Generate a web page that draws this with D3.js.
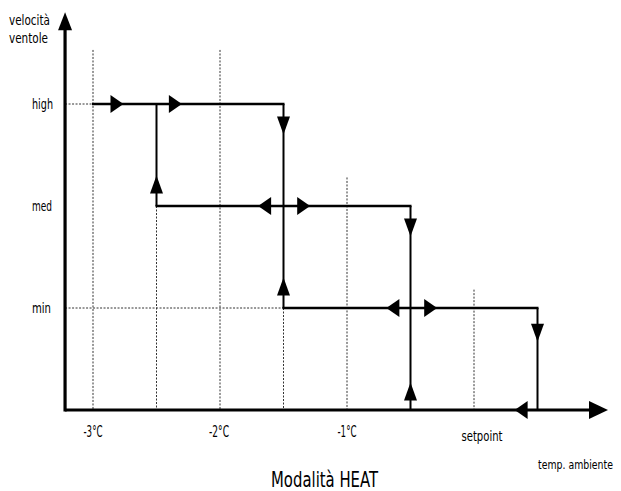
<!DOCTYPE html>
<html><head><meta charset="utf-8">
<script src="https://cdn.jsdelivr.net/npm/d3@7/dist/d3.min.js"></script>
<style>
html,body{margin:0;padding:0;background:#fff;}
text{font-family:"Liberation Sans Narrow","DejaVu Sans Condensed","Liberation Sans",sans-serif;fill:#000;}
</style></head>
<body>
<svg id="chart" width="621" height="491"></svg>
<script>
// ---- data ----
const levels = [1, 2, 3];
const levelLabels = ["min", "med", "high"];
const xTicks = [-3, -2, -1, 0];
const xTickLabels = ["-3°C", "-2°C", "-1°C", "setpoint"];
// dotted grid columns: temperature and top level (in fan-speed units)
const gridX   = [-3, -2.5, -2, -1.5, -1, 0];
const gridTop = [3.53, 2, 3.53, 1, 2.28, 1.18];
// dotted guide from y axis to the start of a level
const guideLevel = [3, 1];
const guideEnd   = [-3, -1.5];
// hysteresis step lines: horizontal (level, from, to)
const hLevel = [3, 2, 1];
const hFrom  = [-3, -2.5, -1.5];
const hTo    = [-1.5, -0.5, 0.5];
// vertical (temperature, from level, to level)
const vX    = [-2.5, -1.5, -0.5, 0.5];
const vFrom = [2, 1, 0, 0];
const vTo   = [3, 3, 2, 1];
// arrows (tip position, direction)
const arrowX   = [-2.76, -2.30, -1.5, -2.5, -1.70, -1.29, -0.5, -1.5, -0.69, -0.29, 0.5, -0.5, 0.32];
const arrowY   = [3, 3, 2.70, 2.30, 2, 2, 1.70, 1.30, 1, 1, 0.67, 0.27, 0];
const arrowDir = ["right","right","down","up","left","right","down","up","left","right","down","up","left"];
// axis extents
const xAxisMin = -3.22, xAxisMax = 1.055, yAxisMax = 3.9;

// ---- scales ----
const x = d3.scaleLinear().domain([-3, 0]).range([93, 474]);
const y = d3.scaleLinear().domain([0, 3]).range([410, 104]);

const svg = d3.select("#chart");

// dotted grid
svg.append("g").selectAll("line").data(gridX).join("line")
  .attr("x1", d => x(d)).attr("x2", d => x(d))
  .attr("y1", (d, i) => y(gridTop[i])).attr("y2", y(0))
  .attr("stroke", "#333").attr("stroke-width", 1).attr("stroke-dasharray", "2,1.5");
svg.append("g").selectAll("line").data(guideLevel).join("line")
  .attr("x1", x(xAxisMin)).attr("x2", (d, i) => x(guideEnd[i]))
  .attr("y1", d => y(d)).attr("y2", d => y(d))
  .attr("stroke", "#333").attr("stroke-width", 1).attr("stroke-dasharray", "2,1.5");

// step lines
svg.append("g").selectAll("line").data(hLevel).join("line")
  .attr("x1", (d, i) => x(hFrom[i]) - 1).attr("x2", (d, i) => x(hTo[i]) + 1)
  .attr("y1", d => y(d)).attr("y2", d => y(d))
  .attr("stroke", "#000").attr("stroke-width", 2.5);
svg.append("g").selectAll("line").data(vX).join("line")
  .attr("x1", d => x(d)).attr("x2", d => x(d))
  .attr("y1", (d, i) => y(vFrom[i])).attr("y2", (d, i) => y(vTo[i]))
  .attr("stroke", "#000").attr("stroke-width", 2);

// axes
svg.append("line").attr("x1", x(xAxisMin)).attr("x2", x(xAxisMax) - 10)
  .attr("y1", y(0)).attr("y2", y(0)).attr("stroke", "#000").attr("stroke-width", 3.2);
svg.append("line").attr("x1", x(xAxisMin)).attr("x2", x(xAxisMin))
  .attr("y1", y(0) + 1.6).attr("y2", y(yAxisMax) + 10).attr("stroke", "#000").attr("stroke-width", 3.2);

function arrowPath(px, py, dir, L, H) {
  if (dir === "right") return `M${px},${py}L${px - L},${py - H}L${px - L},${py + H}Z`;
  if (dir === "left")  return `M${px},${py}L${px + L},${py - H}L${px + L},${py + H}Z`;
  if (dir === "down")  return `M${px},${py}L${px - H},${py - L}L${px + H},${py - L}Z`;
  return `M${px},${py}L${px - H},${py + L}L${px + H},${py + L}Z`;
}
// axis arrowheads
svg.append("path").attr("d", arrowPath(x(xAxisMax), y(0), "right", 19, 9)).attr("fill", "#000");
svg.append("path").attr("d", arrowPath(x(xAxisMin), y(yAxisMax), "up", 18, 7)).attr("fill", "#000");
// flow arrows
svg.append("g").selectAll("path").data(arrowX).join("path")
  .attr("d", (d, i) => {
    const dir = arrowDir[i];
    const horiz = dir === "left" || dir === "right";
    return arrowPath(x(d), y(arrowY[i]), dir, horiz ? 13 : 18, horiz ? 9 : 6.5);
  })
  .attr("fill", "#000");

// y labels
svg.append("g").selectAll("text").data(levels).join("text")
  .attr("x", 32).attr("y", d => y(d) + 4.5)
  .attr("font-size", 14)
  .attr("textLength", (d, i) => [19, 20, 21][i]).attr("lengthAdjust", "spacingAndGlyphs")
  .text((d, i) => levelLabels[i]);

// x tick labels
const xLabOffset = [0, -1, 0, 8];
const xLabLen = [19, 20, 19, 41];
const xLabBase = [437, 437, 437, 441];
svg.append("g").selectAll("text").data(xTicks).join("text")
  .attr("x", (d, i) => x(d) + xLabOffset[i] - xLabLen[i] / 2)
  .attr("y", (d, i) => xLabBase[i])
  .attr("font-size", (d, i) => i === 3 ? 14 : 16)
  .attr("textLength", (d, i) => xLabLen[i]).attr("lengthAdjust", "spacingAndGlyphs")
  .text((d, i) => xTickLabels[i]);

// axis titles
svg.append("text").attr("x", 9).attr("y", 25).attr("font-size", 14)
  .attr("textLength", 41).attr("lengthAdjust", "spacingAndGlyphs").text("velocità");
svg.append("text").attr("x", 9).attr("y", 43).attr("font-size", 14)
  .attr("textLength", 39).attr("lengthAdjust", "spacingAndGlyphs").text("ventole");
svg.append("g").attr("transform", "translate(538,469) scale(0.8,1)")
  .append("text").attr("x", 0).attr("y", 0).attr("font-size", 13).text("temp. ambiente");
// chart title
svg.append("text").attr("x", 271).attr("y", 487).attr("font-size", 21)
  .attr("textLength", 107).attr("lengthAdjust", "spacingAndGlyphs").text("Modalità HEAT");
</script>
</body></html>
